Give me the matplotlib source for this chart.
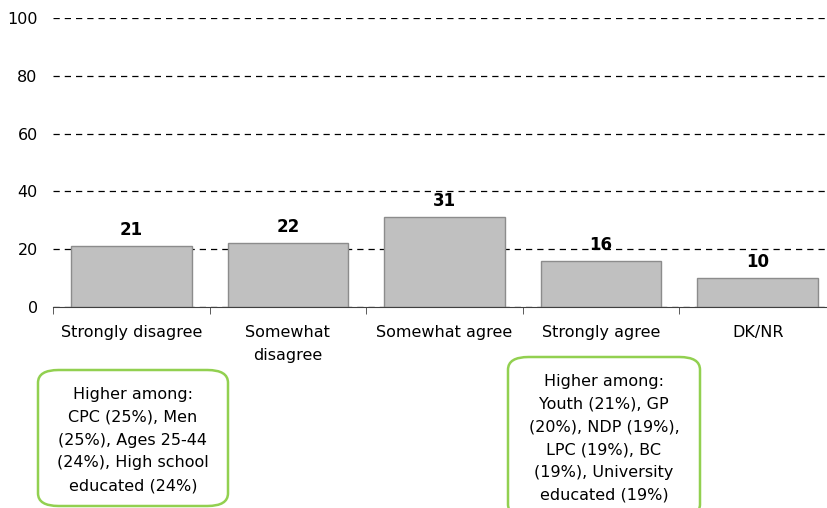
import matplotlib.pyplot as plt
from matplotlib.patches import FancyBboxPatch

categories = ["Strongly disagree", "Somewhat\ndisagree", "Somewhat agree", "Strongly agree", "DK/NR"]
values = [21, 22, 31, 16, 10]
yticks = [0, 20, 40, 60, 80, 100]

note_left = "Higher among:\nCPC (25%), Men\n(25%), Ages 25-44\n(24%), High school\neducated (24%)"
note_right = "Higher among:\nYouth (21%), GP\n(20%), NDP (19%),\nLPC (19%), BC\n(19%), University\neducated (19%)"

plt.rcParams['font.family'] = ['DejaVu Sans']

fig = plt.figure(figsize=(8.27, 5.08), dpi=100)
ax = fig.add_axes([53 / 827, 201 / 508, 783 / 827, 289 / 508])

x = range(len(values))
ax.bar(x, values, width=0.77, color="#c0c0c0", edgecolor="#8c8c8c", linewidth=1, zorder=3)
for i, v in zip(x, values):
    ax.text(i, v + 2.4, str(v), ha="center", va="bottom", fontsize=12, fontweight="bold", zorder=4)

ax.set_xlim(-0.5, len(values) - 0.5)
ax.set_ylim(0, 100)
ax.set_yticks(yticks)
ax.yaxis.grid(True, linestyle=(0, (5, 4)), color="black", linewidth=0.9)
ax.set_axisbelow(True)
ax.tick_params(axis="y", length=0, labelsize=11.5, pad=11)

ax.set_xticks(x)
ax.set_xticklabels(categories, fontsize=11.5, va="top", linespacing=1.65)
ax.set_xticks([i - 0.5 for i in range(len(values) + 1)], minor=True)
ax.tick_params(axis="x", which="major", length=0, pad=13)
ax.tick_params(axis="x", which="minor", length=5, color="#404040")

for s in ["left", "right", "top"]:
    ax.spines[s].set_visible(False)
ax.spines["bottom"].set_color("#404040")
ax.spines["bottom"].set_zorder(5)

# annotation boxes
boxes = [(38, 370, 190, 136, note_left), (508, 357, 192, 160, note_right)]
for bx, by, bw, bh, txt in boxes:
    patch = FancyBboxPatch((bx / 827, 1 - (by + bh) / 508), bw / 827, bh / 508,
                           boxstyle="round,pad=0,rounding_size=0.025",
                           transform=fig.transFigure, facecolor="white",
                           edgecolor="#92d050", linewidth=1.8, clip_on=False)
    fig.patches.append(patch)
    fig.text((bx + bw / 2) / 827, 1 - (by + 17) / 508, txt, ha="center", va="top",
             fontsize=11.5, linespacing=1.65)

fig.savefig("out.png", dpi=100)
